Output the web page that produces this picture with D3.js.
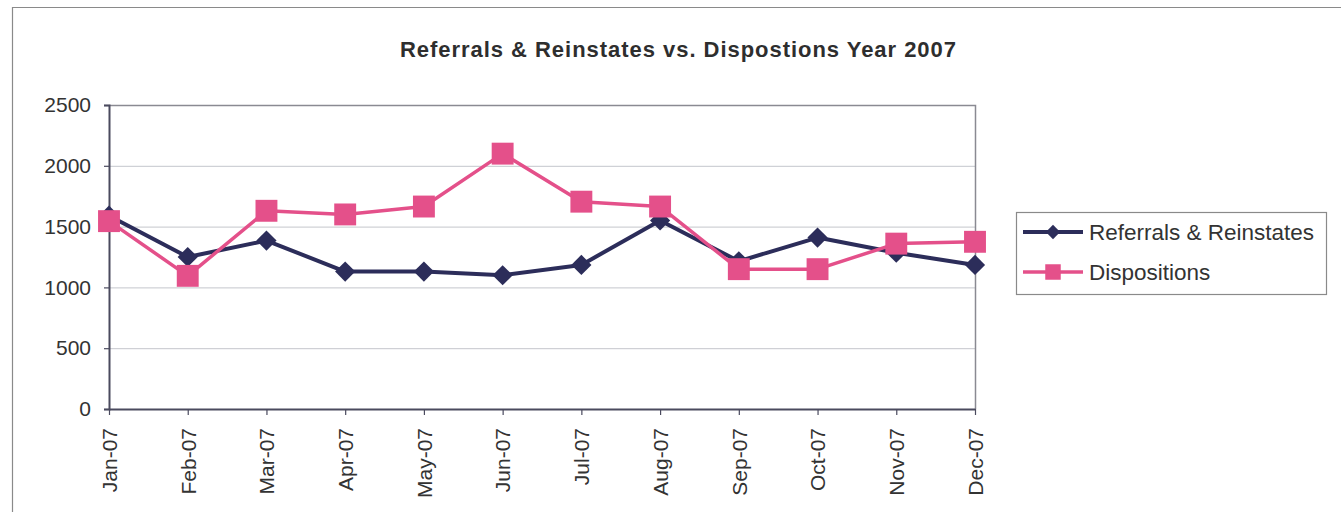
<!DOCTYPE html>
<html lang="en">
<head>
    <meta charset="UTF-8">
    <title>Referrals & Reinstates vs. Dispostions Year 2007</title>
    <script src="https://d3js.org/d3.v7.min.js"></script>
    <style>
        body { margin: 0; background: #fff; }
        text { font-family: Arial, "Liberation Sans", sans-serif; }
    </style>
</head>
<body>
<script>
    // data
    var months = ["Jan-07", "Feb-07", "Mar-07", "Apr-07", "May-07", "Jun-07",
                  "Jul-07", "Aug-07", "Sep-07", "Oct-07", "Nov-07", "Dec-07"];
    var referrals = [1590, 1250, 1385, 1130, 1130, 1100, 1185, 1550, 1215, 1410, 1285, 1185];
    var dispositions = [1545, 1095, 1630, 1600, 1665, 2100, 1705, 1665, 1150, 1150, 1360, 1375];
    var yTicks = [0, 500, 1000, 1500, 2000, 2500];
    var seriesNames = ["Referrals & Reinstates", "Dispositions"];

    var width = 1341, height = 512;
    var navy = "#2c2d5a", pink = "#e4508a";

    var svg = d3.select("body").append("svg")
        .attr("width", width)
        .attr("height", height);

    // chart area frame
    svg.append("path")
        .attr("d", "M12.5," + height + "V7.5H" + width)
        .attr("fill", "none")
        .attr("stroke", "#8a8a8a")
        .attr("stroke-width", 1.2);

    svg.append("text")
        .attr("x", 678)
        .attr("y", 57)
        .attr("text-anchor", "middle")
        .attr("textLength", 556)
        .attr("lengthAdjust", "spacing")
        .style("font-size", "22px")
        .style("font-weight", "bold")
        .style("fill", "#2e2e2e")
        .text("Referrals & Reinstates vs. Dispostions Year 2007");

    var x = d3.scalePoint().domain(months).range([109, 975]).padding(0);
    var y = d3.scaleLinear().domain([0, 2500]).range([409, 105]);

    // gridlines
    svg.append("g")
        .selectAll("line")
        .data(yTicks.slice(1, -1))
        .enter().append("line")
        .attr("x1", 109).attr("x2", 975)
        .attr("y1", function (d) { return y(d) + 0.5; })
        .attr("y2", function (d) { return y(d) + 0.5; })
        .attr("stroke", "#c4c6cc")
        .attr("stroke-width", 1);

    // plot area top/right border
    svg.append("path")
        .attr("d", "M109," + (y(2500) + 0.5) + "H" + 975.5 + "V" + y(0))
        .attr("fill", "none")
        .attr("stroke", "#8a8a92")
        .attr("stroke-width", 1.5);

    var yAxis = svg.append("g")
        .attr("transform", "translate(109,0)")
        .call(d3.axisLeft(y).tickValues(yTicks).tickSize(5).tickPadding(13).tickFormat(d3.format("d")));
    yAxis.select(".domain").attr("stroke", "#4a4a5e").attr("stroke-width", 2);
    yAxis.selectAll(".tick line").attr("stroke", "#4a4a5e").attr("stroke-width", 1.2);
    yAxis.selectAll("text").style("font-size", "21px").style("fill", "#333")
        .attr("font-family", null);

    var xAxis = svg.append("g")
        .attr("transform", "translate(0,409)")
        .call(d3.axisBottom(x).tickSize(6).tickSizeOuter(0));
    xAxis.select(".domain").attr("stroke", "#4a4a5e").attr("stroke-width", 2);
    xAxis.selectAll(".tick line").attr("stroke", "#4a4a5e").attr("stroke-width", 1.2);
    xAxis.selectAll("text")
        .attr("transform", "rotate(-90)")
        .attr("x", -19)
        .attr("y", 0)
        .attr("dy", "0.35em")
        .attr("font-family", null)
        .style("text-anchor", "end")
        .style("font-size", "21px")
        .style("fill", "#333");

    var line = d3.line()
        .x(function (d, i) { return x(months[i]); })
        .y(function (d) { return y(d); });

    var diamond = d3.symbol().type(d3.symbolDiamond2).size(260);
    var square = d3.symbol().type(d3.symbolSquare).size(480);

    // Referrals & Reinstates
    svg.append("path")
        .datum(referrals)
        .attr("d", line)
        .attr("fill", "none")
        .attr("stroke", navy)
        .attr("stroke-width", 4)
        .attr("stroke-linejoin", "round");
    svg.append("g").selectAll("path")
        .data(referrals)
        .enter().append("path")
        .attr("d", diamond)
        .attr("transform", function (d, i) { return "translate(" + x(months[i]) + "," + y(d) + ")"; })
        .attr("fill", navy);

    // Dispositions
    svg.append("path")
        .datum(dispositions)
        .attr("d", line)
        .attr("fill", "none")
        .attr("stroke", pink)
        .attr("stroke-width", 3.5)
        .attr("stroke-linejoin", "round");
    svg.append("g").selectAll("path")
        .data(dispositions)
        .enter().append("path")
        .attr("d", square)
        .attr("transform", function (d, i) { return "translate(" + x(months[i]) + "," + y(d) + ")"; })
        .attr("fill", pink);

    // legend
    var legend = svg.append("g");
    legend.append("rect")
        .attr("x", 1016.5).attr("y", 212.5)
        .attr("width", 310).attr("height", 82)
        .attr("fill", "#fff")
        .attr("stroke", "#8a8a8a")
        .attr("stroke-width", 1.2);

    var legendItems = legend.selectAll("g.item")
        .data(seriesNames)
        .enter().append("g")
        .attr("class", "item")
        .attr("transform", function (d, i) { return "translate(0," + (232 + i * 40) + ")"; });

    legendItems.append("line")
        .attr("x1", 1023).attr("x2", 1083)
        .attr("stroke", function (d, i) { return i == 0 ? navy : pink; })
        .attr("stroke-width", function (d, i) { return i == 0 ? 4 : 3.5; });
    legendItems.append("path")
        .attr("d", function (d, i) {
            return i == 0 ? d3.symbol().type(d3.symbolDiamond2).size(130)() : d3.symbol().type(d3.symbolSquare).size(240)();
        })
        .attr("transform", "translate(1053,0)")
        .attr("fill", function (d, i) { return i == 0 ? navy : pink; });
    legendItems.append("text")
        .attr("x", 1089)
        .attr("dy", "0.35em")
        .style("font-size", "22.5px")
        .style("fill", "#333")
        .text(function (d) { return d; });
</script>
</body>
</html>
